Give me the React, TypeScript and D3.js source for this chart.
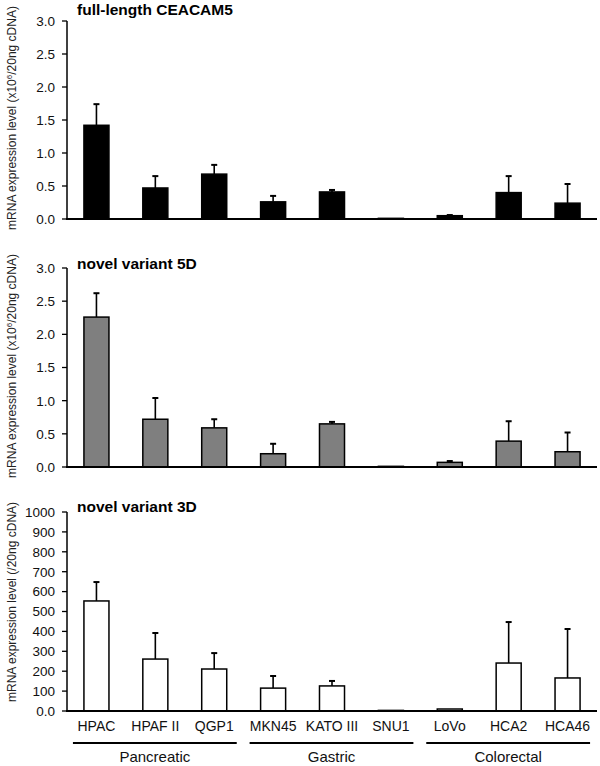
import React from "react";
import * as d3 from "d3";

const cellLines = ["HPAC", "HPAF II", "QGP1", "MKN45", "KATO III", "SNU1", "LoVo", "HCA2", "HCA46"];
const groups = ["Pancreatic", "Gastric", "Colorectal"];
const groupMembers = [[0, 2], [3, 5], [6, 8]];

const fullLength = [1.42, 0.47, 0.68, 0.26, 0.41, 0.01, 0.05, 0.4, 0.24];
const fullLengthErr = [1.74, 0.65, 0.82, 0.35, 0.44, 0.01, 0.06, 0.65, 0.53];
const variant5D = [2.26, 0.72, 0.59, 0.2, 0.65, 0.01, 0.07, 0.39, 0.23];
const variant5DErr = [2.62, 1.04, 0.72, 0.35, 0.68, 0.01, 0.09, 0.69, 0.52];
const variant3D = [553, 261, 211, 115, 126, 3, 10, 241, 166];
const variant3DErr = [648, 392, 291, 176, 151, 3, 10, 447, 412];

const ticksA = [0, 0.5, 1, 1.5, 2, 2.5, 3];
const ticksB = [0, 100, 200, 300, 400, 500, 600, 700, 800, 900, 1000];

const FONT = "Liberation Sans, Arial, sans-serif";

type PanelProps = {
  title: string;
  titleY: number;
  values: number[];
  errs: number[];
  domainMax: number;
  ticks: number[];
  fmt: (v: number) => string;
  yTop: number;
  yBottom: number;
  labelCenter: number;
  fill: string;
  yLabel: React.ReactNode;
};

const x = d3.scaleBand<string>().domain(cellLines).range([67, 597]).paddingInner(0.575).paddingOuter(0.2875);

function Panel({ title, titleY, values, errs, domainMax, ticks, fmt, yTop, yBottom, labelCenter, fill, yLabel }: PanelProps) {
  const y = d3.scaleLinear().domain([0, domainMax]).range([yBottom, yTop]);
  const bw = x.bandwidth();
  return (
    <g>
      {values.map((v, i) => {
        const cx = (x(cellLines[i]) as number) + bw / 2;
        const e = errs[i];
        return (
          <g key={i}>
            {e > v + 1e-9 && (
              <g stroke="#000" strokeWidth={1.6}>
                <line x1={cx} x2={cx} y1={y(v)} y2={y(e)} />
                <line x1={cx - 3} x2={cx + 3} y1={y(e)} y2={y(e)} strokeWidth={2} />
              </g>
            )}
            <rect
              x={x(cellLines[i])}
              y={y(v)}
              width={bw}
              height={Math.max(0.5, y(0) - y(v))}
              fill={fill}
              stroke="#000"
              strokeWidth={1.5}
            />
          </g>
        );
      })}
      <line x1={67} x2={67} y1={yTop} y2={yBottom} stroke="#000" strokeWidth={1.5} />
      {ticks.map((t) => (
        <g key={t}>
          <line x1={62} x2={67} y1={y(t)} y2={y(t)} stroke="#000" strokeWidth={1.3} />
          <text x={55} y={y(t)} dy="0.36em" textAnchor="end" fontSize={13.5} fontFamily={FONT} fill="#111">
            {fmt(t)}
          </text>
        </g>
      ))}
      <line x1={66} x2={597} y1={yBottom} y2={yBottom} stroke="#000" strokeWidth={1.8} />
      <text x={77} y={titleY} fontSize={15.5} fontWeight="bold" fontFamily={FONT} fill="#000" dy="0.36em">
        {title}
      </text>
      <text
        transform={`translate(16,${labelCenter}) rotate(-90)`}
        textAnchor="middle"
        fontSize={12}
        fontFamily={FONT}
        fill="#222"
      >
        {yLabel}
      </text>
    </g>
  );
}

export default function App() {
  const fmtA = (v: number) => v.toFixed(1);
  const fmtB = (v: number) => (v === 0 ? "0.0" : String(v));
  const bw = x.bandwidth();
  const sup = (
    <>
      mRNA expression level (x10<tspan baselineShift="super" fontSize={8}>6</tspan>/20ng cDNA)
    </>
  );
  return (
    <svg width={600} height={766} style={{ position: "absolute", left: 0, top: 0, background: "#fff" }}>
      <rect width={600} height={766} fill="#fff" />
      <Panel
        title="full-length CEACAM5"
        titleY={9}
        values={fullLength}
        errs={fullLengthErr}
        domainMax={3}
        ticks={ticksA}
        fmt={fmtA}
        yTop={21}
        yBottom={219}
        labelCenter={118}
        fill="#000"
        yLabel={sup}
      />
      <Panel
        title="novel variant 5D"
        titleY={263}
        values={variant5D}
        errs={variant5DErr}
        domainMax={3}
        ticks={ticksA}
        fmt={fmtA}
        yTop={268}
        yBottom={467}
        labelCenter={366}
        fill="#7f7f7f"
        yLabel={sup}
      />
      <Panel
        title="novel variant 3D"
        titleY={506.5}
        values={variant3D}
        errs={variant3DErr}
        domainMax={1000}
        ticks={ticksB}
        fmt={fmtB}
        yTop={512}
        yBottom={711}
        labelCenter={602}
        fill="#fff"
        yLabel={<>mRNA expression level (/20ng cDNA)</>}
      />
      {cellLines.map((c) => (
        <text
          key={c}
          x={(x(c) as number) + bw / 2}
          y={725.5}
          dy="0.36em"
          textAnchor="middle"
          fontSize={14}
          fontFamily={FONT}
          fill="#111"
        >
          {c}
        </text>
      ))}
      {groups.map((g, i) => {
        const [a, b] = groupMembers[i];
        const x0 = (x(cellLines[a]) as number) - 11;
        const x1 = (x(cellLines[b]) as number) + bw + 10;
        return (
          <g key={g}>
            <line x1={x0} x2={x1} y1={743} y2={743} stroke="#000" strokeWidth={2.2} />
            <text
              x={(x0 + x1) / 2}
              y={757}
              dy="0.36em"
              textAnchor="middle"
              fontSize={15}
              fontFamily={FONT}
              fill="#111"
            >
              {g}
            </text>
          </g>
        );
      })}
    </svg>
  );
}
